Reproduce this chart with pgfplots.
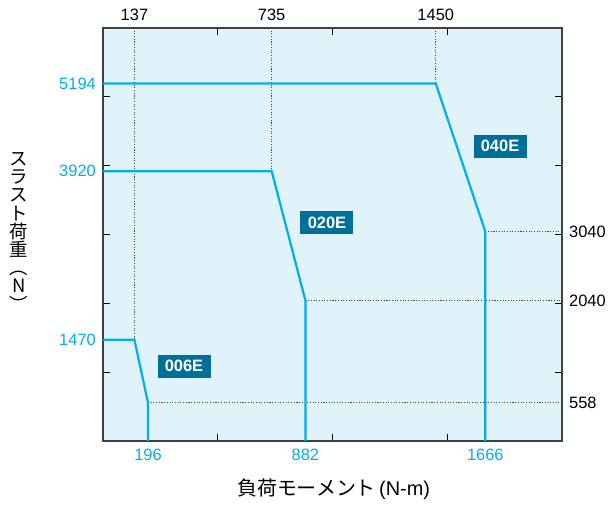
\documentclass[border=0pt]{standalone}
\usepackage{pgfplots}
\pgfplotsset{compat=1.18}
\usepackage{fontspec}
\setmainfont{Liberation Sans}
\newfontfamily\cjk{Noto Sans CJK JP}
\definecolor{linec}{RGB}{0,174,239}
\definecolor{bgc}{RGB}{224,242,250}
\definecolor{boxc}{RGB}{0,112,155}
\definecolor{framec}{RGB}{64,64,64}
\definecolor{dotc}{RGB}{70,70,70}
\begin{document}
\begin{tikzpicture}
\begin{axis}[
  scale only axis, width=459bp, height=413bp,
  xmin=0, xmax=2000, ymin=0, ymax=6000,
  clip mode=individual,
  axis background/.style={fill=bgc},
  axis line style={framec, line width=1.2bp},
  tick align=inside, tick pos=both,
  xtick={500,1000,1500}, ytick={1000,2000,3000,4000,5000},
  xticklabels={}, yticklabels={},
  major tick length=7bp,
  tick style={black, line width=0.9bp},
  extra x ticks={196,882,1666}, extra x tick labels={196,882,1666},
  extra y ticks={1470,3920,5194}, extra y tick labels={1470,3920,5194},
  extra x tick style={major tick length=0pt, tick label style={text=linec}},
  extra y tick style={major tick length=0pt, tick label style={text=linec}},
  ticklabel style={font=\fontsize{16.5}{16.5}\selectfont, inner sep=0pt},
  xticklabel shift=8bp, yticklabel shift=7bp,
]
\pgfplotsset{dots/.style={dotc, line width=1.1bp, dash pattern=on 1.1bp off 1.6bp}}
\addplot[dots] coordinates {(137,6000)(137,1470)};
\addplot[dots] coordinates {(735,6000)(735,3920)};
\addplot[dots] coordinates {(1450,6000)(1450,5194)};
\addplot[dots] coordinates {(196,558)(2000,558)};
\addplot[dots] coordinates {(882,2040)(2000,2040)};
\addplot[dots] coordinates {(1666,3040)(2000,3040)};
\addplot[linec, line width=2.2bp] coordinates {(0,1470)(137,1470)(196,558)(196,0)};
\addplot[linec, line width=2.2bp] coordinates {(0,3920)(735,3920)(882,2040)(882,0)};
\addplot[linec, line width=2.2bp] coordinates {(0,5194)(1450,5194)(1666,3040)(1666,0)};
\tikzset{lbl/.style={fill=boxc, text=white, font=\bfseries\fontsize{16.5}{16.5}\selectfont, minimum width=53bp, minimum height=23bp, inner sep=0pt}}
\node[lbl] at (axis cs:353,1085) {006E};
\node[lbl] at (axis cs:976,3170) {020E};
\node[lbl] at (axis cs:1730,4284) {040E};
\tikzset{tl/.style={font=\fontsize{16.5}{16.5}\selectfont, inner sep=0pt}}
\node[tl, anchor=base] at ([yshift=7bp]axis cs:137,6000) {137};
\node[tl, anchor=base] at ([yshift=7bp]axis cs:735,6000) {735};
\node[tl, anchor=base] at ([yshift=7bp]axis cs:1450,6000) {1450};
\node[tl, anchor=west] at ([xshift=7bp]axis cs:2000,3040) {3040};
\node[tl, anchor=west] at ([xshift=7bp]axis cs:2000,2040) {2040};
\node[tl, anchor=west] at ([xshift=7bp]axis cs:2000,558) {558};
\node[anchor=base, inner sep=0pt, font=\fontsize{20}{20}\selectfont] at ([yshift=-55bp]axis cs:1005,0) {{\cjk 負荷モーメント}\,(N-m)};
\node[inner sep=0pt, align=center, font=\cjk\fontsize{18.5}{18.3}\selectfont] at ([xshift=-84bp]axis cs:0,3040) {ス\\ラ\\ス\\ト\\荷\\重\\︵\\N\\︶};
\end{axis}
\pgfresetboundingbox
\path ([shift={(-103bp,-65bp)}]current axis.south west) rectangle ([shift={(49bp,28bp)}]current axis.north east);
\end{tikzpicture}
\end{document}
